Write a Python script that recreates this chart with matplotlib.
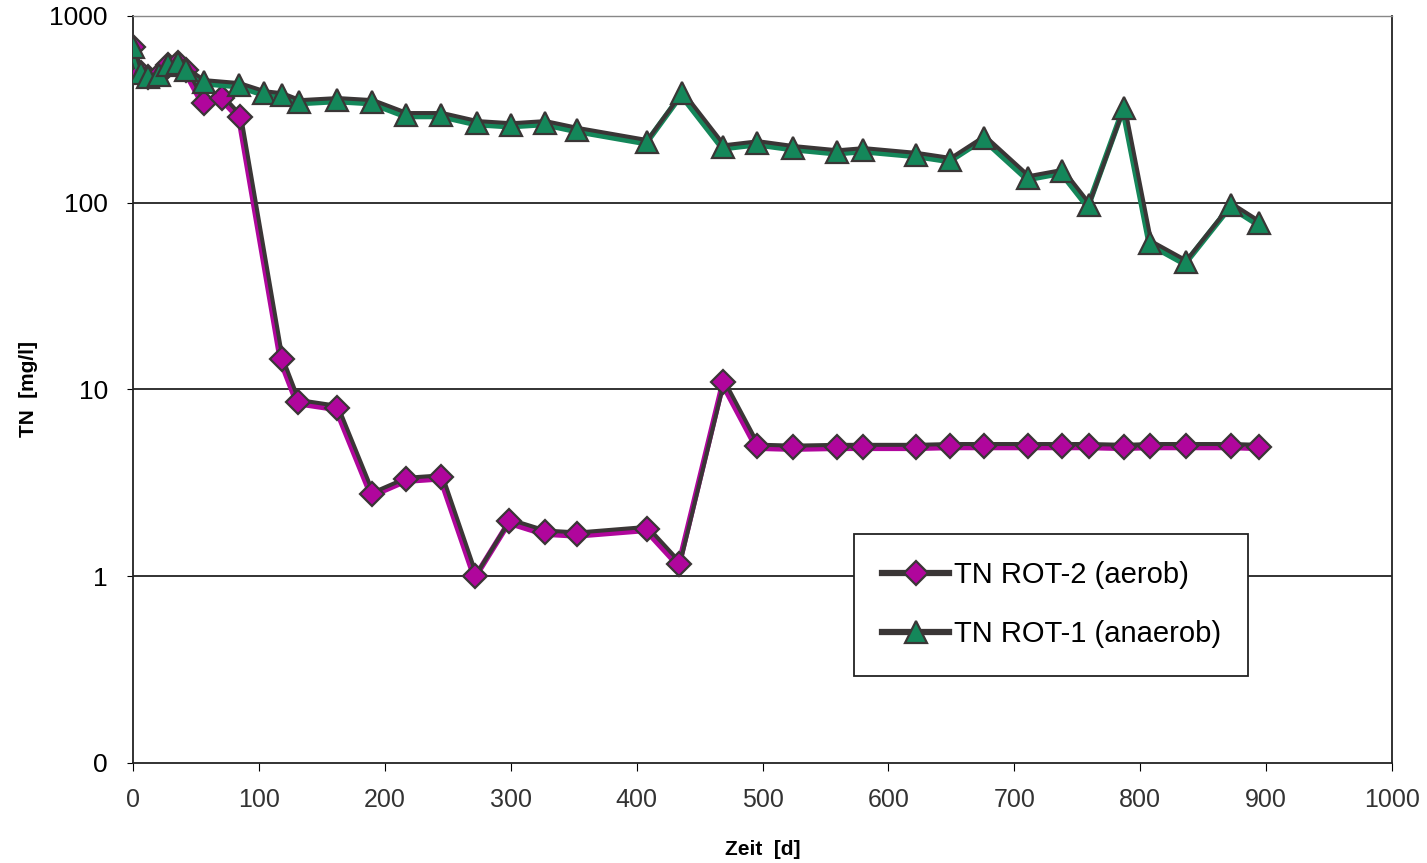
import numpy as np
import matplotlib
matplotlib.use("Agg")
import matplotlib.pyplot as plt
import matplotlib.transforms as mtransforms
from matplotlib.lines import Line2D

plt.rcParams['font.family'] = ['Liberation Sans', 'DejaVu Sans']

# TN ROT-2 (aerob)
days_rot2 = [0, 6, 12, 21, 28, 36, 42, 56, 71, 85, 118, 131, 162, 190, 217, 245,
             272, 299, 327, 353, 408, 434, 469, 496, 524, 559, 580, 622, 649, 676,
             711, 738, 759, 787, 808, 836, 872, 894]
tn_rot2 = [680, 495, 472, 480, 547, 560, 514, 343, 364, 288, 14.5, 8.6, 8.0, 2.75,
           3.3, 3.4, 1.0, 1.97, 1.72, 1.68, 1.8, 1.16, 10.9, 4.96, 4.9, 4.95, 4.95,
           4.95, 5.0, 5.0, 5.0, 5.0, 5.0, 4.95, 5.0, 5.0, 5.0, 4.95]

# TN ROT-1 (anaerob)
days_rot1 = [0, 6, 12, 21, 28, 36, 42, 56, 84, 104, 118, 132, 162, 190, 217, 245,
             273, 300, 327, 353, 408, 436, 469, 496, 524, 559, 580, 622, 649, 676,
             711, 738, 759, 787, 808, 836, 872, 894]
tn_rot1 = [680, 495, 472, 480, 547, 560, 514, 444, 428, 387, 378, 347, 356, 347,
           296, 296, 268, 261, 268, 246, 212, 385, 199, 209, 197, 187, 192, 181,
           170, 223, 136, 147, 97, 322, 61, 48, 97, 78]

ytick_vals = [0.1, 1, 10, 100, 1000]
ytick_labels = ['0', '1', '10', '100', '1000']
xticks = list(range(0, 1001, 100))

magenta = '#b0069c'
green = '#14875a'
dark = '#3a3636'

fig = plt.figure(figsize=(14.27, 8.63), dpi=100)
ax = fig.add_axes([0.0932, 0.1159, 0.8823, 0.8656])

ax.set_yscale('log')
ax.set_ylim(0.1, 1000)
ax.set_xlim(0, 1000)

for v in [1, 10, 100]:
    ax.axhline(v, color='#222222', lw=1.3, zorder=1)

up = mtransforms.offset_copy(ax.transData, fig=fig, x=0.6, y=1.2, units='points')
down = mtransforms.offset_copy(ax.transData, fig=fig, x=-0.6, y=-1.2, units='points')

# aerob series
ax.plot(days_rot2, tn_rot2, color=magenta, lw=4.2, transform=down, zorder=2)
ax.plot(days_rot2, tn_rot2, color=dark, lw=2.9, transform=up, zorder=3)
ax.plot(days_rot2, tn_rot2, ls='none', marker='D', ms=12.5, mfc=magenta,
        mec=dark, mew=1.6, zorder=4)

# anaerob series
ax.plot(days_rot1, tn_rot1, color=green, lw=4.2, transform=down, zorder=5)
ax.plot(days_rot1, tn_rot1, color=dark, lw=2.9, transform=up, zorder=6)
ax.plot(days_rot1, tn_rot1, ls='none', marker='^', ms=15.5, mfc=green,
        mec=dark, mew=1.6, zorder=7)

ax.set_yticks(ytick_vals)
ax.set_yticklabels(ytick_labels)
ax.yaxis.set_minor_locator(matplotlib.ticker.NullLocator())
ax.set_xticks(xticks)
ax.tick_params(axis='y', labelsize=19, length=4, direction='out', pad=14)
ax.tick_params(axis='x', labelsize=18, length=6, direction='out', pad=12,
               labelcolor='#333333')

for s in ['left', 'bottom', 'right']:
    ax.spines[s].set_color('#222222')
    ax.spines[s].set_linewidth(1.3)
ax.spines['top'].set_color('#888888')
ax.spines['top'].set_linewidth(1.0)

ax.set_xlabel('Zeit  [d]', fontsize=15, fontweight='bold', labelpad=20)
ax.set_ylabel('TN  [mg/l]', fontsize=15, fontweight='bold', labelpad=8)

handles = [
    Line2D([], [], color=dark, lw=4.5, marker='D', ms=12.5, mfc=magenta, mec=dark,
           mew=1.6),
    Line2D([], [], color=dark, lw=4.5, marker='^', ms=15.5, mfc=green, mec=dark,
           mew=1.6),
]
leg = ax.legend(handles, ['TN ROT-2 (aerob)', 'TN ROT-1 (anaerob)'],
                loc='upper left', bbox_to_anchor=(0.573, 0.307),
                fontsize=21, frameon=True, fancybox=False, edgecolor='#222222',
                handlelength=2.3, handletextpad=0.15, labelspacing=1.05,
                borderpad=0.95, borderaxespad=0, framealpha=1)
leg.get_frame().set_linewidth(1.3)

fig.savefig('out.png', dpi=100)
